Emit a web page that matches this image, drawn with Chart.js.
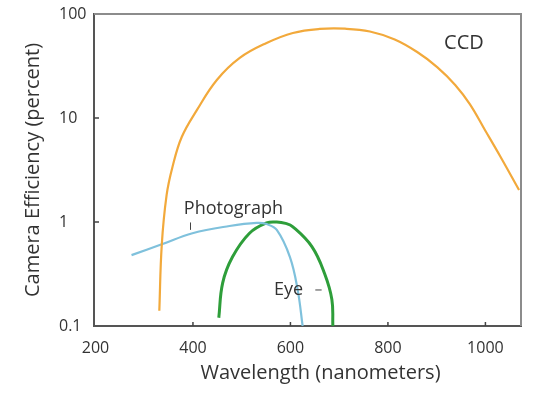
<!DOCTYPE html>
<html>
<head>
<meta charset="utf-8">
<script src="https://cdn.jsdelivr.net/npm/chart.js@4.4.1/dist/chart.umd.min.js"></script>
<style>
  html, body { margin: 0; padding: 0; background: #fff; }
  #wrap { width: 553px; height: 395px; }
</style>
</head>
<body>
<div id="wrap"><canvas id="chart" width="553" height="395"></canvas></div>
<script>
// wavelength (nm) / efficiency (percent)
const ccdNm  = [331, 336, 346, 358, 377, 408, 449, 496, 551, 605, 660, 712, 763, 814, 860, 901, 938, 968, 999, 1030, 1069];
const ccdEff = [0.14, 0.6, 1.82, 3.38, 6.56, 11.9, 23.2, 37.8, 52.6, 65.7, 71.8, 72.2, 67.9, 56.9, 43.1, 30.9, 20.8, 13.6, 7.67, 4.31, 2.03];

const photoNm  = [274, 336, 399, 475, 531, 551, 572, 599, 615, 625];
const photoEff = [0.48, 0.61, 0.78, 0.915, 0.98, 0.955, 0.84, 0.46, 0.22, 0.1];

const eyeNm  = [453, 461, 481, 516, 551, 572, 590, 605, 644, 670, 685, 687];
const eyeEff = [0.12, 0.26, 0.46, 0.78, 0.98, 1.0, 0.97, 0.9, 0.58, 0.32, 0.18, 0.1];

const xTicks = [200, 400, 600, 800, 1000];
const yTicks = [0.1, 1, 10, 100];

const labels = [
  { text: "CCD", x: 956, y: 52, size: 20 },
  { text: "Photograph", x: 483, y: 1.33, size: 18 },
  { text: "Eye", x: 596, y: 0.222, size: 18 }
];

const ink = "#333";
const font = "'Open Sans', 'Noto Sans', sans-serif";

function pts(xs, ys) {
  return xs.map((x, i) => ({ x: x, y: ys[i] }));
}

// frame, inward tick marks and curve labels
const extras = {
  id: "extras",
  afterDraw(c) {
    const ctx = c.ctx;
    const a = c.chartArea;
    const xs = c.scales.x, ys = c.scales.y;
    ctx.save();
    ctx.strokeStyle = "#8c8c8c";
    ctx.lineWidth = 2;
    ctx.beginPath();
    ctx.moveTo(a.left, a.top);
    ctx.lineTo(a.right, a.top);
    ctx.lineTo(a.right, a.bottom);
    ctx.stroke();

    ctx.strokeStyle = "#444";
    ctx.lineWidth = 1.5;
    ctx.beginPath();
    [1, 10].forEach(v => {
      const y = ys.getPixelForValue(v);
      ctx.moveTo(a.left, y);
      ctx.lineTo(a.left + 5, y);
    });
    xTicks.slice(1).forEach(v => {
      const x = xs.getPixelForValue(v);
      ctx.moveTo(x, a.bottom);
      ctx.lineTo(x, a.bottom - 4);
    });
    ctx.stroke();

    ctx.fillStyle = ink;
    ctx.textAlign = "center";
    ctx.textBaseline = "middle";
    labels.forEach(l => {
      ctx.font = l.size + "px " + font;
      ctx.fillText(l.text, xs.getPixelForValue(l.x), ys.getPixelForValue(l.y));
    });

    // little leader marks next to the labels
    ctx.lineWidth = 1;
    ctx.beginPath();
    let px = xs.getPixelForValue(395);
    ctx.moveTo(px, ys.getPixelForValue(0.99));
    ctx.lineTo(px, ys.getPixelForValue(0.84));
    const ey = ys.getPixelForValue(0.222);
    ctx.moveTo(xs.getPixelForValue(651), ey);
    ctx.lineTo(xs.getPixelForValue(664), ey);
    ctx.stroke();
    ctx.restore();
  }
};

new Chart(document.getElementById("chart"), {
  type: "line",
  data: {
    datasets: [
      { label: "CCD", data: pts(ccdNm, ccdEff), borderColor: "#f2a93b", borderWidth: 2.2 },
      { label: "Photograph", data: pts(photoNm, photoEff), borderColor: "#7fc1dc", borderWidth: 2.2 },
      { label: "Eye", data: pts(eyeNm, eyeEff), borderColor: "#2e9e3a", borderWidth: 3 }
    ]
  },
  options: {
    responsive: false,
    devicePixelRatio: 1,
    animation: false,
    layout: { padding: { left: 59, top: 14, right: 32, bottom: 0 } },
    elements: {
      point: { radius: 0 },
      line: { tension: 0.4, fill: false }
    },
    plugins: { legend: { display: false }, tooltip: { enabled: false } },
    scales: {
      x: {
        type: "linear",
        min: 197,
        max: 1073,
        afterBuildTicks: (s) => { s.ticks = xTicks.map(v => ({ value: v })); },
        afterFit: (s) => { s.height = 69; },
        grid: { drawOnChartArea: false, drawTicks: false },
        border: { color: "#555", width: 2 },
        ticks: {
          color: ink,
          padding: 13,
          font: { family: font, size: 16 },
          callback: (v) => String(v)
        },
        title: {
          display: true,
          text: "     Wavelength (nanometers)",
          color: ink,
          font: { family: font, size: 20 },
          padding: { top: 0, bottom: 10 }
        }
      },
      y: {
        type: "logarithmic",
        min: 0.1,
        max: 100,
        afterBuildTicks: (s) => { s.ticks = yTicks.map(v => ({ value: v })); },
        afterFit: (s) => { s.width = 35; },
        grid: { drawOnChartArea: false, drawTicks: false },
        border: { color: "#555", width: 2 },
        ticks: {
          color: ink,
          crossAlign: "far",
          font: { family: font, size: 16 },
          callback: (v) => String(v)
        },
        title: {
          display: true,
          text: "Camera Efficiency (percent)",
          color: ink,
          font: { family: font, size: 20 },
          padding: { top: -38, bottom: 0 }
        }
      }
    }
  },
  plugins: [extras]
});
</script>
</body>
</html>
